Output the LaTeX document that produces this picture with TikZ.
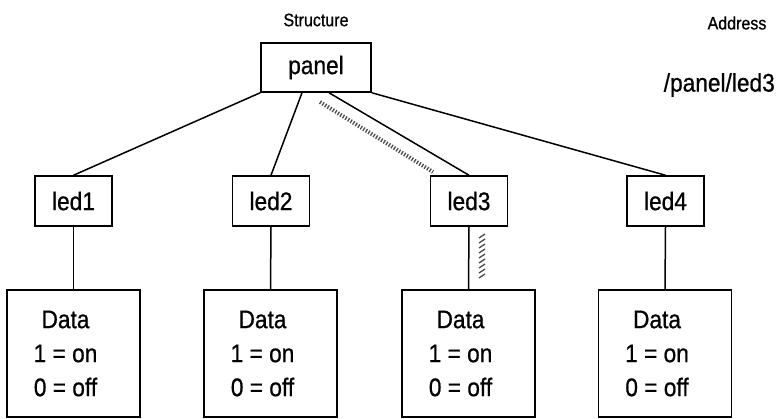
\documentclass[tikz,border=0pt]{standalone}
\usepackage{fontspec}
\setmainfont{Liberation Sans}[FakeStretch=0.89,FakeBold=0.7]
\usetikzlibrary{calc}
\begin{document}
\begin{tikzpicture}[x=1pt,y=-1pt,line width=1.5pt,
  box/.style={draw,line width=1.5pt,inner sep=0pt,minimum width=77pt,minimum height=50pt,font=\fontsize{25.5}{28}\selectfont},
  databox/.style={draw,line width=1.5pt,inner sep=0pt,minimum width=133pt,minimum height=127pt},
  datatext/.style={align=center,inner sep=0pt,font=\fontsize{25.5}{34}\selectfont},
  small/.style={inner sep=0pt,font=\fontsize{18}{20}\selectfont},
  conn/.style={line width=1.5pt},
  hatch/.style={black!70,line width=4pt,dash pattern=on 1.3pt off 1.7pt},
  hstroke/.style={black!70,line width=1.3pt}]
\useasboundingbox (0,0) rectangle (779,418);

\node[small] (structure) at (316,20) {Structure};
\node[small] (address) at (737,23) {Address};
\node[inner sep=0pt,font=\fontsize{25.5}{28}\selectfont,anchor=west] (path) at (663,85) {/panel/led3};

\node[box,minimum width=110pt,minimum height=49pt] (panel) at (316,67.5) {panel};

\node[box] (led1) at (73.5,201) {led1};
\node[box] (led2) at (271,201) {led2};
\node[box] (led3) at (469,201) {led3};
\node[box] (led4) at (665.5,201) {led4};

\node[databox] (d1) at (73.5,353.5) {};
\node[databox] (d2) at (270.5,353.5) {};
\node[databox] (d3) at (468.5,353.5) {};
\node[databox] (d4) at (665,353.5) {};

\foreach \i in {1,2,3,4}{
  \node[datatext] (t\i) at ($(d\i.center)+(-8,0)$) {Data\\1 = on\\0 = off};
}

\draw[conn] (panel.south west) -- (led1.north);
\draw[conn] ($(panel.south)+(-14,0)$) -- (led2.north);
\draw[conn] ($(panel.south)+(13,0)$) -- (led3.north);
\draw[conn] (panel.south east) -- (led4.north);

\foreach \i in {1,2,3,4}{
  \draw[conn] (led\i.south) -- (d\i.north);
}

\coordinate (h1) at (320,102);
\coordinate (h2) at (433,172);
\draw[hatch] (h1) -- (h2);

\foreach \y in {236,241,...,276}{
  \draw[hstroke] (479,\y+2) -- (485,\y-2);
}
\end{tikzpicture}
\end{document}
